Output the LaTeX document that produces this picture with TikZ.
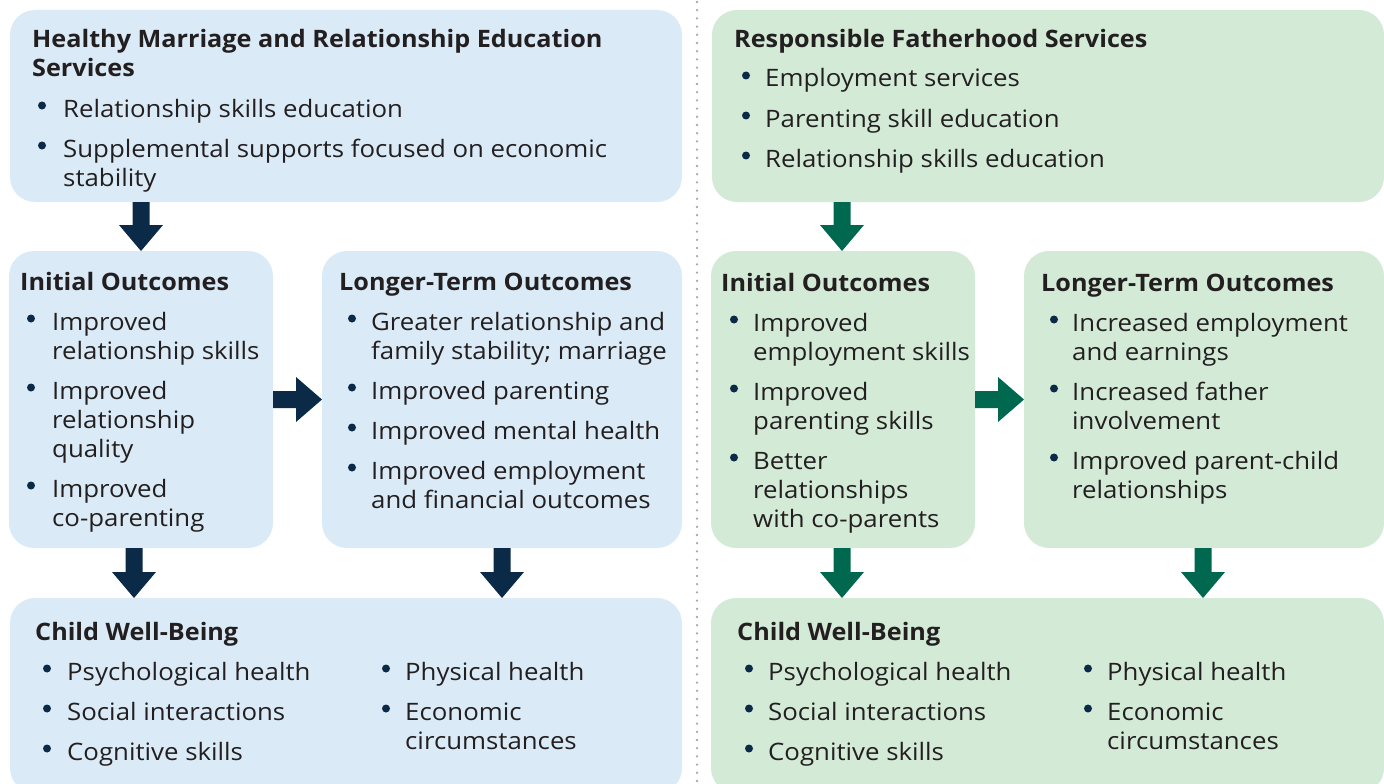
\documentclass[tikz,border=0pt]{standalone}
\usepackage{fontspec}
\setmainfont{Open Sans}[FakeStretch=1.075, BoldFeatures={FakeStretch=1.05}]
\usetikzlibrary{calc}
\definecolor{bluebox}{HTML}{DAEBF7}
\definecolor{greenbox}{HTML}{D3EAD7}
\definecolor{navy}{HTML}{0A2A47}
\definecolor{fgreen}{HTML}{00684F}
\definecolor{ink}{HTML}{231F20}
\definecolor{divgray}{HTML}{A6A8AB}

\tikzset{
  panel/.style={rounded corners=25pt, inner sep=0pt, outer sep=0pt, anchor=north west, draw=none},
  headtext/.style={anchor=base west, inner sep=0pt, text=ink, font=\fontsize{24}{29}\selectfont\bfseries},
  itemtext/.style={anchor=base west, inner sep=0pt, text=ink, font=\fontsize{24}{29}\selectfont},
  bulletdot/.style={circle, fill=navy, inner sep=0pt, minimum size=8pt},
}

% bullet with first line of text: name, dot x, text x, baseline, text
\newcommand\pointitem[5]{%
  \node[bulletdot] (#1-dot) at (#2,#4-11.5) {};
  \node[itemtext] (#1) at (#3,#4) {#5};}
% continuation line of a bullet: name, text x, baseline, text
\newcommand\pointline[4]{\node[itemtext] (#1) at (#2,#3) {#4};}

% block arrow pointing down from one panel to the next: colour, from, to, x coordinate
\newcommand\downblock[4]{%
  \fill[#1] let \p1=(#2.south -| #4), \p2=(#3.north -| #4) in
    (\x1-8.5pt,\y1) -- (\x1+8.5pt,\y1) -- (\x1+8.5pt,\y2+26pt) -- (\x1+22pt,\y2+26pt)
    -- (\x1,\y2) -- (\x1-22pt,\y2+26pt) -- (\x1-8.5pt,\y2+26pt) -- cycle;}
% block arrow pointing right: colour, from, to, y coordinate
\newcommand\rightblock[4]{%
  \fill[#1] let \p1=(#2.east |- #4), \p2=(#3.west |- #4) in
    (\x1,\y1+8.5pt) -- (\x2-26pt,\y1+8.5pt) -- (\x2-26pt,\y1+22.5pt) -- (\x2,\y1)
    -- (\x2-26pt,\y1-22.5pt) -- (\x2-26pt,\y1-8.5pt) -- (\x1,\y1-8.5pt) -- cycle;}

\begin{document}
\begin{tikzpicture}[x=1pt,y=-1pt]
\useasboundingbox (0,0) rectangle (1384,784);
\clip (0,0) rectangle (1384,784);

% ---------- panels ----------
\node[panel, fill=bluebox, minimum width=672pt, minimum height=192pt] (hmtop) at (10,10) {};
\node[panel, fill=bluebox, minimum width=264pt, minimum height=297pt] (hminit) at (9,251) {};
\node[panel, fill=bluebox, minimum width=360pt, minimum height=297pt] (hmlong) at (322,251) {};
\node[panel, fill=bluebox, minimum width=672pt, minimum height=195pt] (hmchild) at (10,598) {};

\node[panel, fill=greenbox, minimum width=672pt, minimum height=192pt] (rftop) at (712,10) {};
\node[panel, fill=greenbox, minimum width=264pt, minimum height=297pt] (rfinit) at (711,251) {};
\node[panel, fill=greenbox, minimum width=360pt, minimum height=297pt] (rflong) at (1024,251) {};
\node[panel, fill=greenbox, minimum width=673pt, minimum height=195pt] (rfchild) at (711,598) {};

% ---------- divider ----------
\coordinate (divtop) at (697,2);
\coordinate (divbot) at (697,784);
\draw[divgray, line width=2.6pt, line cap=round, dash pattern=on 0pt off 8.2pt] (divtop) -- (divbot);

% ---------- arrows ----------
\coordinate (ax1) at (141,0);
\coordinate (ax2) at (134,0);
\coordinate (ax3) at (502,0);
\coordinate (ax4) at (842,0);
\coordinate (ax5) at (842,0);
\coordinate (ax6) at (1203,0);
\coordinate (ay1) at (0,399.5);

\downblock{navy}{hmtop}{hminit}{ax1}
\rightblock{navy}{hminit}{hmlong}{ay1}
\downblock{navy}{hminit}{hmchild}{ax2}
\downblock{navy}{hmlong}{hmchild}{ax3}

\downblock{fgreen}{rftop}{rfinit}{ax4}
\rightblock{fgreen}{rfinit}{rflong}{ay1}
\downblock{fgreen}{rfinit}{rfchild}{ax5}
\downblock{fgreen}{rflong}{rfchild}{ax6}

% ---------- Healthy Marriage side ----------
\node[headtext] (hmh1) at (32,48) {Healthy Marriage and Relationship Education};
\node[headtext] (hmh2) at (32,77) {Services};
\pointitem{hma}{42}{63}{117}{Relationship skills education}
\pointitem{hmb}{42}{63}{157}{Supplemental supports focused on economic}
\pointline{hmb2}{63}{186}{stability}

\node[headtext] (hmih) at (20,290) {Initial Outcomes};
\pointitem{hmia}{31}{52}{330}{Improved}
\pointline{hmia2}{52}{359}{relationship skills}
\pointitem{hmib}{31}{52}{399}{Improved}
\pointline{hmib2}{52}{428}{relationship}
\pointline{hmib3}{52}{457}{quality}
\pointitem{hmic}{31}{52}{497}{Improved}
\pointline{hmic2}{52}{526}{co-parenting}

\node[headtext] (hmlh) at (339,290) {Longer-Term Outcomes};
\pointitem{hmla}{352}{371}{330}{Greater relationship and}
\pointline{hmla2}{371}{359}{family stability; marriage}
\pointitem{hmlb}{352}{371}{399}{Improved parenting}
\pointitem{hmlc}{352}{371}{439}{Improved mental health}
\pointitem{hmld}{352}{371}{479}{Improved employment}
\pointline{hmld2}{371}{508}{and financial outcomes}

\node[headtext] (hmch) at (35,640) {Child Well-Being};
\pointitem{hmca}{47}{67}{680}{Psychological health}
\pointitem{hmcb}{47}{67}{720}{Social interactions}
\pointitem{hmcc}{47}{67}{760}{Cognitive skills}
\pointitem{hmcd}{386}{405}{680}{Physical health}
\pointitem{hmce}{386}{405}{720}{Economic}
\pointline{hmce2}{405}{749}{circumstances}

% ---------- Responsible Fatherhood side ----------
\node[headtext] (rfh1) at (734,48) {Responsible Fatherhood Services};
\pointitem{rfa}{746}{765}{87}{Employment services}
\pointitem{rfb}{746}{765}{127}{Parenting skill education}
\pointitem{rfc}{746}{765}{167}{Relationship skills education}

\node[headtext] (rfih) at (721,291) {Initial Outcomes};
\pointitem{rfia}{734}{753}{331}{Improved}
\pointline{rfia2}{753}{360}{employment skills}
\pointitem{rfib}{734}{753}{400}{Improved}
\pointline{rfib2}{753}{429}{parenting skills}
\pointitem{rfic}{734}{753}{469}{Better}
\pointline{rfic2}{753}{498}{relationships}
\pointline{rfic3}{753}{527}{with co-parents}

\node[headtext] (rflh) at (1041,291) {Longer-Term Outcomes};
\pointitem{rfla}{1054}{1072}{331}{Increased employment}
\pointline{rfla2}{1072}{360}{and earnings}
\pointitem{rflb}{1054}{1072}{400}{Increased father}
\pointline{rflb2}{1072}{429}{involvement}
\pointitem{rflc}{1054}{1072}{469}{Improved parent-child}
\pointline{rflc2}{1072}{498}{relationships}

\node[headtext] (rfch) at (737,640) {Child Well-Being};
\pointitem{rfca}{749}{768}{680}{Psychological health}
\pointitem{rfcb}{749}{768}{720}{Social interactions}
\pointitem{rfcc}{749}{768}{760}{Cognitive skills}
\pointitem{rfcd}{1088}{1107}{680}{Physical health}
\pointitem{rfce}{1088}{1107}{720}{Economic}
\pointline{rfce2}{1107}{749}{circumstances}
\end{tikzpicture}
\end{document}
